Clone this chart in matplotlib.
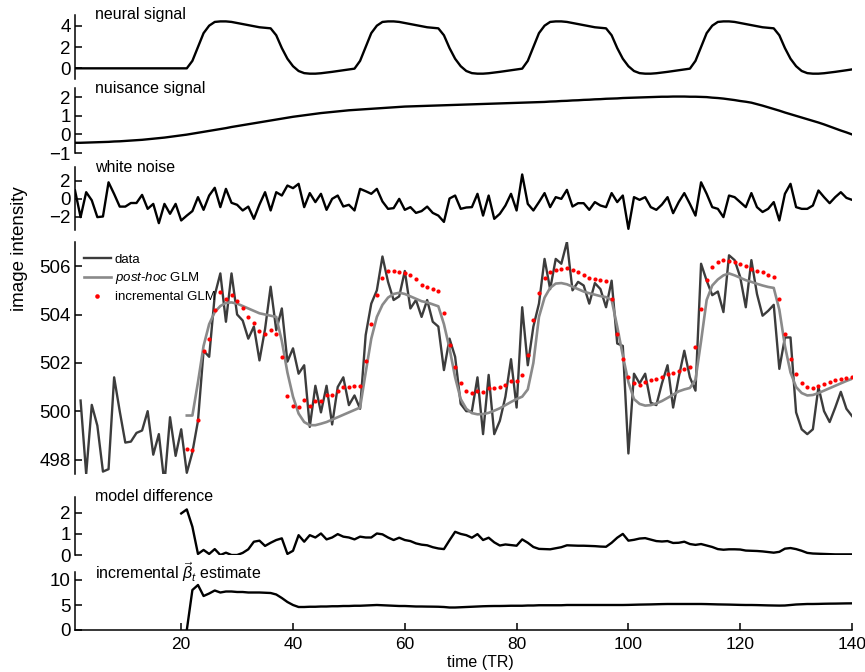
import numpy as np
import matplotlib
matplotlib.use("Agg")
import matplotlib.pyplot as plt

plt.rcParams['font.family'] = ['Liberation Sans', 'DejaVu Sans']
plt.rcParams['mathtext.fontset'] = 'custom'
plt.rcParams['mathtext.rm'] = 'Liberation Sans'
plt.rcParams['mathtext.it'] = 'Liberation Sans:italic'
plt.rcParams['mathtext.bf'] = 'Liberation Sans:bold'

# ---------------- data ----------------
time_all = np.arange(1, 141)
neural = [
    0, 0, 0, 0, 0, 0, 0, 0, 0, 0,
    0, 0, 0, 0, 0, 0, 0, 0, 0, 0,
    0, 0.7, 2.0, 3.3, 4.0, 4.35, 4.4, 4.4, 4.35, 4.25,
    4.15, 4.05, 3.95, 3.85, 3.8, 3.75, 3.1, 1.9, 0.9, 0.2,
    -0.25, -0.45, -0.5, -0.5, -0.46, -0.4, -0.33, -0.26, -0.18, -0.1,
    -0.03, 0.7, 2.0, 3.3, 4.0, 4.35, 4.4, 4.4, 4.35, 4.25,
    4.15, 4.05, 3.95, 3.85, 3.8, 3.75, 3.1, 1.9, 0.9, 0.2,
    -0.25, -0.45, -0.5, -0.5, -0.46, -0.4, -0.33, -0.26, -0.18, -0.1,
    -0.03, 0.7, 2.0, 3.3, 4.0, 4.35, 4.4, 4.4, 4.35, 4.25,
    4.15, 4.05, 3.95, 3.85, 3.8, 3.75, 3.1, 1.9, 0.9, 0.2,
    -0.25, -0.45, -0.5, -0.5, -0.46, -0.4, -0.33, -0.26, -0.18, -0.1,
    -0.03, 0.7, 2.0, 3.3, 4.0, 4.35, 4.4, 4.4, 4.35, 4.25,
    4.15, 4.05, 3.95, 3.85, 3.8, 3.75, 3.1, 1.9, 0.9, 0.2,
    -0.25, -0.45, -0.5, -0.5, -0.46, -0.4, -0.33, -0.26, -0.18, -0.1,
]
nuisance = [
    -0.45, -0.45, -0.44, -0.43, -0.42, -0.41, -0.40, -0.38, -0.37, -0.35,
    -0.33, -0.31, -0.29, -0.26, -0.23, -0.20, -0.17, -0.13, -0.09, -0.05,
    -0.01, 0.04, 0.09, 0.14, 0.19, 0.24, 0.29, 0.34, 0.40, 0.45,
    0.50, 0.55, 0.60, 0.65, 0.70, 0.75, 0.80, 0.85, 0.90, 0.95,
    0.99, 1.03, 1.07, 1.11, 1.15, 1.18, 1.21, 1.24, 1.27, 1.30,
    1.32, 1.34, 1.36, 1.38, 1.40, 1.42, 1.44, 1.46, 1.48, 1.50,
    1.51, 1.52, 1.53, 1.54, 1.55, 1.56, 1.57, 1.58, 1.59, 1.60,
    1.61, 1.62, 1.63, 1.64, 1.65, 1.66, 1.67, 1.68, 1.69, 1.70,
    1.71, 1.72, 1.73, 1.74, 1.75, 1.77, 1.78, 1.80, 1.81, 1.83,
    1.84, 1.86, 1.87, 1.89, 1.90, 1.92, 1.93, 1.94, 1.96, 1.97,
    1.98, 1.99, 2.00, 2.01, 2.02, 2.03, 2.03, 2.04, 2.04, 2.04,
    2.03, 2.03, 2.02, 2.01, 1.98, 1.96, 1.93, 1.89, 1.85, 1.80,
    1.76, 1.71, 1.63, 1.55, 1.46, 1.37, 1.28, 1.18, 1.09, 1.00,
    0.91, 0.82, 0.73, 0.64, 0.54, 0.43, 0.32, 0.21, 0.11, 0.00,
]
noise = [
    0.9, -2.07, 0.7, -0.2, -2.07, -2.0, 1.8, 0.5, -0.9, -0.9,
    -0.5, -0.5, 0.4, -1.15, -0.6, -2.74, -0.6, -1.7, -0.6, -2.44,
    -1.9, -1.4, 0.15, -1.26, 0.33, 1.19, -0.96, 1.07, -0.48, -0.7,
    -1.33, -0.9, -2.26, -0.67, 0.7, -1.33, 0.7, 0.33, 1.44, 1.15,
    1.63, -0.96, 0.6, -0.4, 0.52, -1.26, -0.04, 0.33, -0.89, -0.7,
    -1.33, 1.07, 0.81, 0.52, 1.07, -0.33, -1.15, -1.07, -0.04, -1.26,
    -0.96, -1.6, -1.4, -0.9, -1.6, -1.9, -2.6, 0.0, 0.33, -1.15,
    -1.0, -0.96, 0.52, -1.9, 0.33, -2.26, -1.7, -0.78, 0.52, -1.33,
    2.67, -0.6, -1.33, -0.4, 0.6, -0.96, 0.15, -0.04, 0.96, -0.89,
    -0.52, -0.52, -1.26, -0.4, -0.78, -0.96, 0.6, -0.4, 0.33, -3.37,
    0.15, -0.15, 0.15, -0.96, -1.26, -0.67, 0.15, -1.63, -0.4, 0.6,
    -0.6, -1.9, 1.8, 0.52, -0.96, -1.15, -2.07, 0.33, 0.15, -0.4,
    -0.96, 0.6, -0.96, -1.5, -1.15, -0.4, -2.44, 0.52, 1.63, -0.96,
    -1.15, -1.15, -0.78, 0.89, 0.15, -0.52, 0.15, 0.7, 0.07, -0.15,
]

data_time = np.arange(2, 141)
data = [
    500.44, 497.4, 500.26, 499.4, 497.5, 497.6, 501.4, 500.0, 498.7,
    498.74, 499.1, 499.2, 500.0, 498.2, 499.05, 497.0, 499.75, 498.15, 499.25,
    497.45, 498.3, 499.6, 502.5, 502.25, 504.8, 505.7, 503.7, 505.7, 504.0,
    503.75, 503.0, 503.5, 502.1, 503.4, 505.15, 503.35, 504.25, 502.05, 502.6,
    501.55, 501.9, 499.35, 501.05, 499.95, 501.05, 499.45, 501.0, 501.4, 500.25,
    500.65, 500.1, 503.15, 504.45, 505.0, 506.4, 505.35, 504.6, 504.75, 505.8,
    504.25, 504.6, 503.9, 504.6, 503.7, 503.5, 501.7, 503.0, 502.25, 500.3,
    500.0, 500.0, 501.4, 499.05, 501.5, 499.05, 499.6, 500.6, 502.15, 500.15,
    504.3, 501.9, 503.5, 504.45, 506.3, 505.05, 506.3, 506.1, 507.0, 505.0,
    505.35, 505.2, 504.45, 505.3, 505.05, 504.3, 505.4, 502.8, 502.7, 498.25,
    501.55, 501.15, 501.55, 500.35, 500.25, 501.15, 501.9, 500.15, 501.4, 502.5,
    501.4, 500.85, 506.1, 505.4, 504.8, 504.95, 504.1, 506.45, 506.25, 505.55,
    504.3, 506.25, 504.85, 503.95, 504.15, 504.4, 501.75, 503.05, 503.05, 499.95,
    499.25, 499.05, 499.25, 501.0, 500.0, 499.55, 500.15, 500.8, 500.1, 499.8,
]

glm_time = np.arange(21, 141)
posthoc_glm = [
    499.82, 499.82, 501.2, 502.7, 503.6, 504.1, 504.35, 504.48, 504.5, 504.45,
    504.35, 504.25, 504.15, 504.05, 504.0, 503.95, 503.9, 502.9, 501.6, 500.6,
    499.9, 499.55, 499.42, 499.42, 499.48, 499.55, 499.65, 499.75, 499.85, 499.95,
    500.05, 500.15, 501.6, 503.0, 503.9, 504.4, 504.7, 504.85, 504.9, 504.85,
    504.75, 504.65, 504.55, 504.5, 504.42, 504.34, 503.6, 502.6, 501.4, 500.5,
    500.1, 499.92, 499.87, 499.88, 499.93, 500.02, 500.12, 500.25, 500.38, 500.5,
    500.6, 500.9, 502.0, 503.9, 504.7, 505.1, 505.28, 505.3, 505.25, 505.15,
    505.05, 504.95, 504.88, 504.82, 504.76, 504.72, 504.6, 503.5, 502.3, 501.2,
    500.5, 500.3, 500.23, 500.25, 500.32, 500.42, 500.55, 500.68, 500.82, 500.9,
    500.96, 501.3, 502.9, 504.6, 505.2, 505.45, 505.62, 505.7, 505.62, 505.52,
    505.42, 505.35, 505.27, 505.2, 505.14, 505.1, 504.2, 502.7, 501.6, 501.0,
    500.75, 500.65, 500.67, 500.75, 500.85, 500.95, 501.05, 501.15, 501.25, 501.34,
]
incremental_glm = [
    498.45, 498.4, 499.64, 502.47, 503.0, 504.2, 504.93, 504.66, 504.8, 504.56,
    504.27, 503.9, 503.65, 503.3, 503.2, 503.34, 503.2, 502.24, 500.62, 500.23,
    500.16, 500.48, 500.23, 500.44, 500.44, 500.67, 500.65, 500.83, 501.0, 501.02,
    501.06, 501.06, 502.06, 503.62, 504.8, 505.53, 505.8, 505.8, 505.76, 505.72,
    505.63, 505.45, 505.21, 505.14, 505.07, 504.96, 504.06, 502.75, 501.82, 501.17,
    500.85, 500.74, 500.85, 500.79, 500.97, 500.95, 500.99, 501.09, 501.23, 501.23,
    501.48, 502.31, 503.76, 504.87, 505.49, 505.74, 505.86, 505.9, 505.93, 505.83,
    505.74, 505.63, 505.53, 505.46, 505.42, 505.39, 504.63, 503.21, 502.17, 501.41,
    501.17, 501.1, 501.2, 501.27, 501.34, 501.41, 501.52, 501.59, 501.68, 501.75,
    501.82, 502.65, 504.24, 505.42, 505.97, 506.18, 506.25, 506.22, 506.18, 506.11,
    506.0, 505.88, 505.81, 505.74, 505.65, 505.56, 504.66, 503.21, 502.17, 501.55,
    501.17, 500.99, 500.95, 501.06, 501.13, 501.2, 501.27, 501.34, 501.38, 501.41,
]

diff_time = np.arange(20, 141)
model_difference = [
    1.97,
    2.16, 1.34, 0.05, 0.24, 0.05, 0.28, 0.0, 0.11, 0.0, 0.0,
    0.1, 0.27, 0.63, 0.68, 0.43, 0.58, 0.71, 0.79, 0.05, 0.2,
    0.94, 0.63, 0.94, 0.83, 1.02, 0.74, 0.83, 0.99, 0.87, 0.83,
    0.74, 0.87, 0.83, 0.83, 1.02, 0.98, 0.83, 0.71, 0.82, 0.71,
    0.66, 0.55, 0.49, 0.46, 0.37, 0.31, 0.28, 0.7, 1.1, 1.0,
    0.94, 0.82, 0.99, 0.71, 0.82, 0.6, 0.45, 0.5, 0.47, 0.44,
    0.74, 0.58, 0.38, 0.29, 0.28, 0.27, 0.32, 0.37, 0.46, 0.45,
    0.44, 0.44, 0.43, 0.42, 0.4, 0.39, 0.58, 0.82, 1.0, 0.68,
    0.72, 0.78, 0.8, 0.73, 0.66, 0.64, 0.66, 0.57, 0.58, 0.63,
    0.52, 0.48, 0.52, 0.45, 0.38, 0.28, 0.25, 0.27, 0.27, 0.26,
    0.21, 0.2, 0.19, 0.17, 0.14, 0.11, 0.15, 0.3, 0.33, 0.28,
    0.2, 0.1, 0.07, 0.06, 0.05, 0.04, 0.03, 0.03, 0.03, 0.03,
]

beta_time = np.arange(21, 141)
beta_estimate = [
    0.0, 8.0, 9.0, 6.8, 7.3, 7.9, 7.5, 7.7, 7.7, 7.6,
    7.6, 7.5, 7.5, 7.5, 7.45, 7.4, 7.1, 6.4, 5.6, 5.0,
    4.6, 4.6, 4.65, 4.65, 4.7, 4.7, 4.75, 4.75, 4.8, 4.8,
    4.85, 4.85, 4.9, 4.95, 5.0, 4.95, 4.9, 4.85, 4.8, 4.8,
    4.75, 4.7, 4.7, 4.68, 4.67, 4.65, 4.6, 4.5, 4.5, 4.55,
    4.6, 4.65, 4.7, 4.75, 4.78, 4.8, 4.8, 4.82, 4.85, 4.85,
    4.85, 4.9, 4.9, 4.95, 4.95, 4.95, 4.95, 4.95, 5.0, 5.0,
    5.0, 5.0, 5.0, 5.0, 5.0, 5.0, 5.0, 5.0, 5.0, 5.02,
    5.05, 5.08, 5.1, 5.12, 5.15, 5.18, 5.2, 5.2, 5.2, 5.2,
    5.2, 5.2, 5.2, 5.18, 5.15, 5.12, 5.1, 5.08, 5.05, 5.02,
    5.0, 5.0, 4.98, 4.95, 4.92, 4.9, 4.88, 4.9, 5.0, 5.1,
    5.15, 5.2, 5.2, 5.22, 5.25, 5.27, 5.28, 5.3, 5.32, 5.33,
]

x_ticks = [20, 40, 60, 80, 100, 120, 140]

# ---------------- layout ----------------
W, H = 865, 672
fig = plt.figure(figsize=(W / 100, H / 100), dpi=100)

def axes_px(top, bottom, left=75, right=852):
    return fig.add_axes([left / W, 1 - bottom / H, (right - left) / W, (bottom - top) / H])

YTICK_FS = 13.5
XTICK_FS = 12.5
TITLE_FS = 11.5
LW = 1.7

def style(ax, ylim, yticks, bottom=False):
    ax.set_xlim(1, 140)
    ax.set_ylim(*ylim)
    ax.set_yticks(yticks)
    for s in ['top', 'right']:
        ax.spines[s].set_visible(False)
    ax.spines['left'].set_linewidth(1.1)
    ax.tick_params(axis='y', direction='in', length=5, width=1.1, labelsize=YTICK_FS, pad=3)
    if bottom:
        ax.spines['bottom'].set_linewidth(1.1)
        ax.set_xticks(x_ticks)
        ax.tick_params(axis='x', direction='in', length=5, width=1.1, labelsize=XTICK_FS, pad=5)
    else:
        ax.spines['bottom'].set_visible(False)
        ax.set_xticks([])
    ax.patch.set_alpha(0)

def title(ax, txt):
    ax.text(0.026, 1.0, txt, transform=ax.transAxes, ha='left', va='center', fontsize=TITLE_FS)

ax1 = axes_px(15, 79)
ax1.plot(time_all, neural, color='black', lw=LW)
style(ax1, (-1, 5), [0, 2, 4])
title(ax1, 'neural signal')

ax2 = axes_px(88, 153)
ax2.plot(time_all, nuisance, color='black', lw=LW)
style(ax2, (-1, 2.5), [-1, 0, 1, 2])
title(ax2, 'nuisance signal')

ax3 = axes_px(167, 230)
ax3.plot(time_all, noise, color='black', lw=LW)
style(ax3, (-3.5, 3.5), [-2, 0, 2])
title(ax3, 'white noise')

ax4 = axes_px(242, 474)
ax4.plot(data_time, data, color='#3c3c3c', lw=1.7, label='data')
ax4.plot(glm_time, posthoc_glm, color='#8a8a8a', lw=1.9, label=r'$\mathit{post}$-$\mathit{hoc}$ GLM')
ax4.plot(glm_time, incremental_glm, linestyle='none', marker='o', color='#ff0000',
         markersize=3.0, markeredgewidth=0, label='incremental GLM')
style(ax4, (497.4, 507.0), [498, 500, 502, 504, 506])
leg = ax4.legend(loc='upper left', bbox_to_anchor=(0.0, 0.99), frameon=False, fontsize=9.5,
                 handlelength=2.0, handletextpad=0.3, labelspacing=0.35, borderaxespad=0.3,
                 markerscale=1.1)

ax5 = axes_px(497, 555)
ax5.plot(diff_time, model_difference, color='black', lw=LW)
style(ax5, (0, 2.75), [0, 1, 2])
title(ax5, 'model difference')

ax6 = axes_px(572, 630)
ax6.plot(beta_time, beta_estimate, color='black', lw=LW)
style(ax6, (0, 11.6), [0, 5, 10], bottom=True)
title(ax6, r'incremental $\vec{\beta}_t$ estimate')

fig.text(20 / W, 1 - 249 / H, 'image intensity', rotation=90, ha='center', va='center', fontsize=13.5)
fig.text(480 / W, 1 - 662 / H, 'time (TR)', ha='center', va='center', fontsize=11.5)

fig.savefig('out.png', dpi=100)
